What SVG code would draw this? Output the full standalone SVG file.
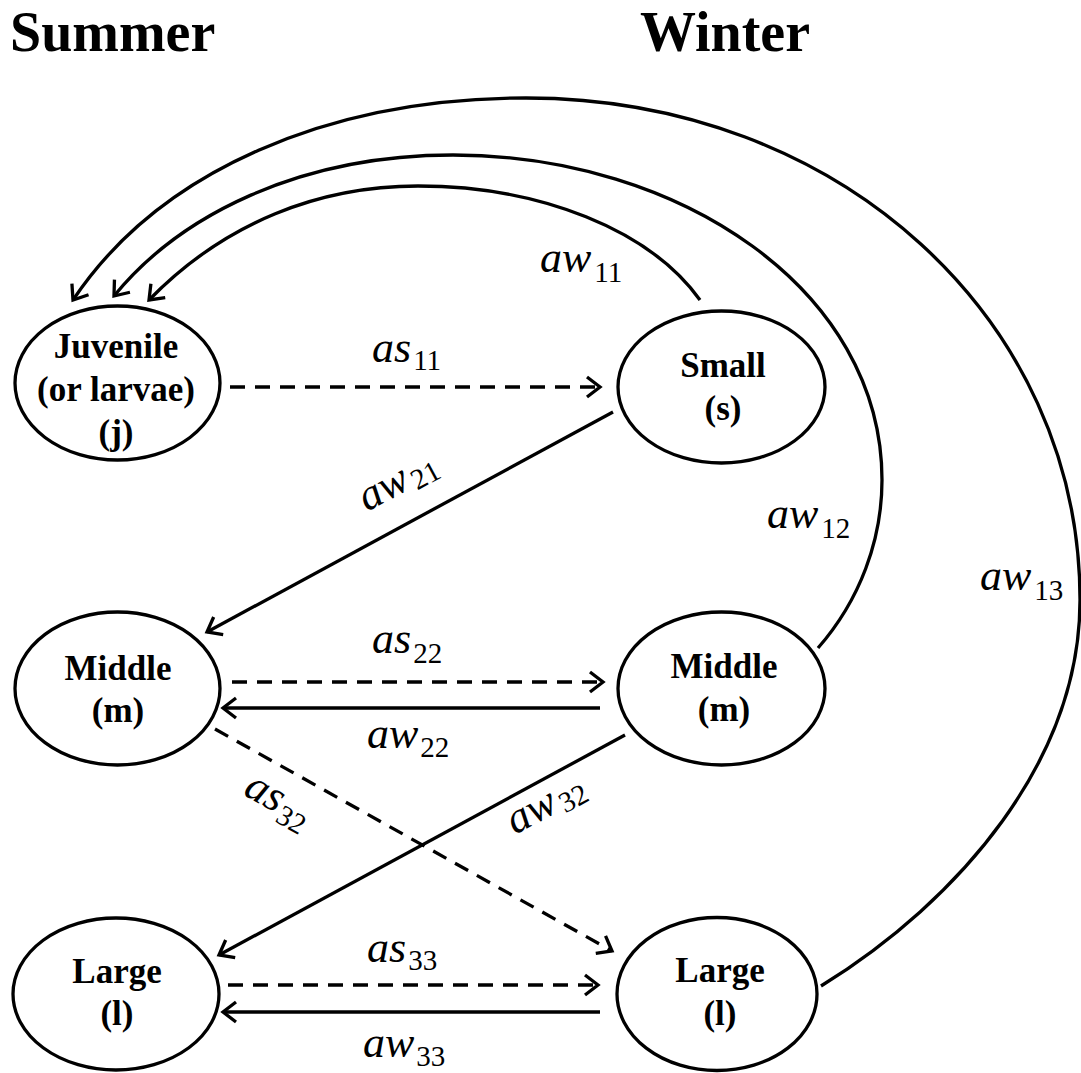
<svg xmlns="http://www.w3.org/2000/svg" width="1081" height="1073" viewBox="0 0 1081 1073">
<style>
.title{font-family:"Liberation Serif","Times New Roman",serif;font-weight:bold;font-size:56px;fill:#000}
.node ellipse{fill:#fff;stroke:#000;stroke-width:3.3}
.node text{font-family:"Liberation Serif","Times New Roman",serif;font-weight:bold;font-size:35px;fill:#000;text-anchor:middle}
.edge{fill:none;stroke:#000;stroke-width:3.3}
.dash{stroke-dasharray:15 10}
.lab{font-family:"Liberation Serif","Times New Roman",serif;font-style:italic;font-size:44px;fill:#000}
.sub{font-style:normal;font-size:29px}
</style>
<defs>
<marker id="ah" viewBox="-16 -12 20 24" refX="0" refY="0" markerWidth="20" markerHeight="24" markerUnits="userSpaceOnUse" orient="auto">
<path d="M-13,-10 L0,0 L-13,10" fill="none" stroke="#000" stroke-width="3.3"/>
</marker>
</defs>
<rect width="1081" height="1073" fill="#fff"/>
<text class="title" x="10" y="51">Summer</text>
<text class="title" x="640" y="51">Winter</text>

<g id="connectors">
<path class="edge" d="M821,986 C960,900 1080,760 1080,600 C1080,320 840,98 526,98 C330,98 160,170 73,300" marker-end="url(#ah)"/>
<path class="edge" d="M818,648 C860,600 882,540 882,480 C882,290 680,155 453,155 C300,155 180,215 114,296" marker-end="url(#ah)"/>
<path class="edge" d="M700,300 C650,230 540,186 418,186 C320,186 225,222 149,300" marker-end="url(#ah)"/>
<path class="edge dash" d="M230,387 L600,387" marker-end="url(#ah)"/>
<path class="edge" d="M613,412 L207,632" marker-end="url(#ah)"/>
<path class="edge dash" d="M232,682 L603,682" marker-end="url(#ah)"/>
<path class="edge" d="M600,708 L223,708" marker-end="url(#ah)"/>
<path class="edge dash" d="M215,729 L612,951" marker-end="url(#ah)"/>
<path class="edge" d="M625,735 L219,955" marker-end="url(#ah)"/>
<path class="edge dash" d="M228,985 L598,985" marker-end="url(#ah)"/>
<path class="edge" d="M600,1012 L223,1012" marker-end="url(#ah)"/>
</g>

<g id="labels">
<text class="lab" x="540" y="272">aw<tspan class="sub" dx="3" dy="10">11</tspan></text>
<text class="lab" x="372" y="362">as<tspan class="sub" dx="2" dy="8">11</tspan></text>
<text class="lab" x="767" y="528">aw<tspan class="sub" dx="3" dy="10">12</tspan></text>
<text class="lab" x="980" y="590">aw<tspan class="sub" dx="3" dy="10">13</tspan></text>
<text class="lab" transform="translate(367,512) rotate(-28.4)">aw<tspan class="sub" dx="3" dy="5">21</tspan></text>
<text class="lab" x="372" y="653">as<tspan class="sub" dx="2" dy="10">22</tspan></text>
<text class="lab" x="367" y="748">aw<tspan class="sub" dx="2" dy="9">22</tspan></text>
<text class="lab" transform="translate(242,794) rotate(29.3)">as<tspan class="sub" dx="2" dy="8">32</tspan></text>
<text class="lab" transform="translate(515,835) rotate(-28.4)">aw<tspan class="sub" dx="3" dy="5">32</tspan></text>
<text class="lab" x="367" y="962">as<tspan class="sub" dx="2" dy="8">33</tspan></text>
<text class="lab" x="363" y="1057">aw<tspan class="sub" dx="2" dy="9">33</tspan></text>
</g>

<g id="node-juvenile" class="node">
<ellipse cx="117.5" cy="383" rx="102.5" ry="77"/>
<text x="116" y="358">Juvenile</text>
<text x="116" y="401">(or larvae)</text>
<text x="116" y="444">(j)</text>
</g>
<g id="node-small" class="node">
<ellipse cx="721.5" cy="387" rx="103.5" ry="76"/>
<text x="723" y="377">Small</text>
<text x="723" y="420">(s)</text>
</g>
<g id="node-middle-summer" class="node">
<ellipse cx="117.5" cy="688.5" rx="102.5" ry="76.5"/>
<text x="118" y="680">Middle</text>
<text x="118" y="722">(m)</text>
</g>
<g id="node-middle-winter" class="node">
<ellipse cx="721.5" cy="688.5" rx="103.5" ry="76.5"/>
<text x="724" y="678">Middle</text>
<text x="724" y="721">(m)</text>
</g>
<g id="node-large-summer" class="node">
<ellipse cx="116" cy="994" rx="103" ry="76"/>
<text x="117" y="983">Large</text>
<text x="117" y="1025">(l)</text>
</g>
<g id="node-large-winter" class="node">
<ellipse cx="717" cy="994" rx="100" ry="76.5"/>
<text x="720" y="982">Large</text>
<text x="720" y="1025">(l)</text>
</g>
</svg>
